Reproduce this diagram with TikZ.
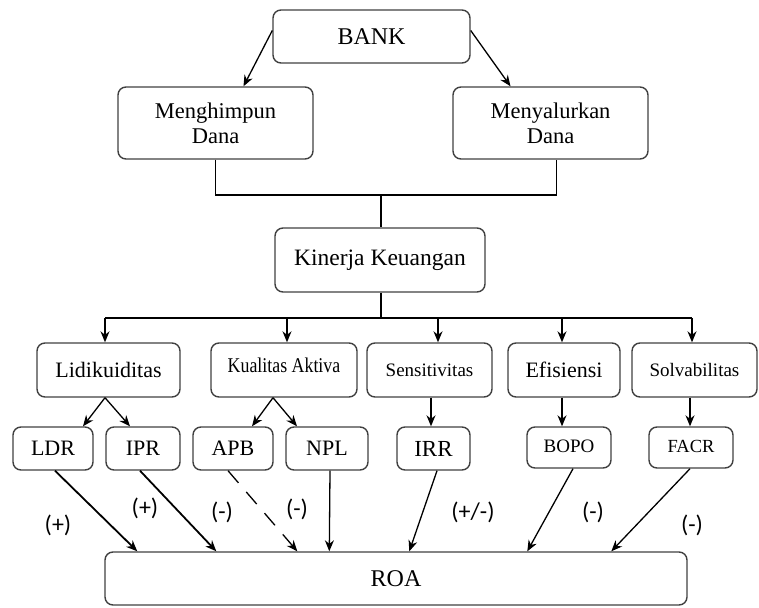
\documentclass[tikz,border=0pt]{standalone}
\usepackage{fontspec}
\usepackage{graphicx}
\setmainfont{Liberation Serif}
\newfontfamily\lblfont{Carlito}
\usetikzlibrary{arrows.meta,calc}
\begin{document}
\begin{tikzpicture}[x=1pt,y=-1pt,
  box/.style={draw=black!75,line width=1.4pt,rounded corners=8pt,inner sep=0pt,align=center},
  arr/.style={-{Stealth[length=11pt,width=9pt]},line width=1.3pt},
  ln/.style={line width=1.3pt},
  lbl/.style={font=\lblfont\fontsize{24}{26}\selectfont,inner sep=0pt},
  f22/.style={font=\fontsize{22}{25}\selectfont},
  f19/.style={font=\fontsize{19}{22}\selectfont},
  f17/.style={font=\fontsize{17}{20}\selectfont},
]
\useasboundingbox (0,0) rectangle (759,607);
% level 0/1
\node[box,font=\fontsize{24}{26}\selectfont,minimum width=197pt,minimum height=53pt] (bank) at (371.5,36.5) {BANK};
\node[box,font=\fontsize{22.5}{25}\selectfont,minimum width=195pt,minimum height=72pt] (mh) at (215.5,123) {Menghimpun\\Dana};
\node[box,font=\fontsize{22.5}{25}\selectfont,minimum width=195pt,minimum height=72pt] (ms) at (550.5,123) {Menyalurkan\\Dana};
\node[box,font=\fontsize{23.5}{26}\selectfont,minimum width=210pt,minimum height=64pt] (kk) at (380,260) {Kinerja Keuangan};
% level 2
\node[box,f22,minimum width=143pt,minimum height=54pt] (lid) at (108.5,370) {Lidikuiditas};
\node[box,font=\fontsize{21}{24}\selectfont,minimum width=146pt,minimum height=54pt,text height=18pt,text depth=14pt] (kual) at (284,370) {\scalebox{0.85}[1]{Kualitas Aktiva}};
\node[box,f19,minimum width=125pt,minimum height=54pt] (sens) at (429.5,370) {Sensitivitas};
\node[box,f22,minimum width=112pt,minimum height=54pt] (efis) at (564,370) {Efisiensi};
\node[box,f19,minimum width=125pt,minimum height=54pt] (solv) at (694.5,370) {Solvabilitas};
% level 3
\node[box,f22,minimum width=80pt,minimum height=43pt] (ldr) at (53,448.5) {LDR};
\node[box,f22,minimum width=74pt,minimum height=43pt] (ipr) at (143,448.5) {IPR};
\node[box,f22,minimum width=80pt,minimum height=43pt] (apb) at (233,448.5) {APB};
\node[box,f22,minimum width=82pt,minimum height=43pt] (npl) at (327,448.5) {NPL};
\node[box,font=\fontsize{23}{25}\selectfont,minimum width=73pt,minimum height=43pt,text height=18pt,text depth=3pt] (irr) at (433.5,448.5) {IRR};
\node[box,font=\fontsize{19}{21}\selectfont,minimum width=84pt,minimum height=41pt,text height=18pt,text depth=8pt] (bopo) at (569,447.5) {BOPO};
\node[box,font=\fontsize{18.5}{21}\selectfont,minimum width=84pt,minimum height=41pt,text height=18pt,text depth=8pt] (facr) at (691,447.5) {FACR};
% ROA
\node[box,font=\fontsize{24}{26}\selectfont,minimum width=582pt,minimum height=53pt] (roa) at (396,578.5) {ROA};
% arrows from BANK
\draw[arr] ($(bank.west)+(0,-6)$) -- ($(mh.north)+(28,0)$);
\draw[arr] ($(bank.east)+(0,-6)$) -- ($(ms.north)+(-40,0)$);
% join to Kinerja
\coordinate (j1) at (381,195);
\coordinate (msj) at ($(ms.south)+(6,0)$);
\coordinate (mhj) at (mh.south);
\draw[ln] (mhj) -- (mhj |- j1) -- (msj |- j1) -- (msj);
\draw[ln] (j1) -- (j1 |- kk.north);
% bus
\coordinate (b1) at (105,318);
\coordinate (b2) at (287,318);
\coordinate (b3) at (438,318);
\coordinate (b4) at (562,318);
\coordinate (b5) at (692,318);
\draw[ln] (j1 |- kk.south) -- (j1 |- b1);
\draw[ln] (b1) -- (b5);
\draw[arr] (b1) -- (b1 |- lid.north);
\draw[arr] (b2) -- (b2 |- kual.north);
\draw[arr] (b3) -- (b3 |- sens.north);
\draw[arr] (b4) -- (b4 |- efis.north);
\draw[arr] (b5) -- (b5 |- solv.north);
% level 2 -> 3
\draw[arr] ($(lid.south)+(-3.5,0)$) -- ($(ldr.north)+(30,0)$);
\draw[arr] ($(lid.south)+(-3.5,0)$) -- ($(ipr.north)+(-13,0)$);
\draw[arr] ($(kual.south)+(-11,0)$) -- ($(apb.north)+(19,0)$);
\draw[arr] ($(kual.south)+(-11,0)$) -- ($(npl.north)+(-30,0)$);
\draw[arr] ($(sens.south)+(1.5,0)$) -- ($(irr.north)+(-2.5,0)$);
\draw[arr] ($(efis.south)+(-2,0)$) -- ($(bopo.north)+(-7,0)$);
\draw[arr] ($(solv.south)+(-4.5,0)$) -- ($(facr.north)+(-1,0)$);
% to ROA
\draw[arr,line width=1.8pt] ($(ldr.south)+(2,0)$) -- ($(roa.north west)+(33,0)$);
\draw[arr,line width=1.8pt] ($(ipr.south)+(-3,0)$) -- ($(roa.north west)+(112,0)$);
\draw[arr,dash pattern=on 16pt off 12pt] ($(apb.south)+(-5,0)$) -- ($(roa.north west)+(193,0)$);
\draw[arr] ($(npl.south)+(3,0)$) -- ($(roa.north west)+(225,0)$);
\draw[arr] ($(irr.south)+(3.5,0)$) -- ($(roa.north west)+(305,0)$);
\draw[arr] ($(bopo.south)+(4,0)$) -- ($(roa.north west)+(423,0)$);
\draw[arr] ($(facr.south)+(-1,0)$) -- ($(roa.north west)+(507,0)$);
% labels
\node[lbl] (l1) at (58,525) {(+)};
\node[lbl] (l2) at (145,508) {(+)};
\node[lbl] (l3) at (222,512) {(-)};
\node[lbl] (l4) at (297,509) {(-)};
\node[lbl] (l5) at (473,512) {(+/-)};
\node[lbl] (l6) at (593,512) {(-)};
\node[lbl] (l7) at (692,525) {(-)};
\end{tikzpicture}
\end{document}
